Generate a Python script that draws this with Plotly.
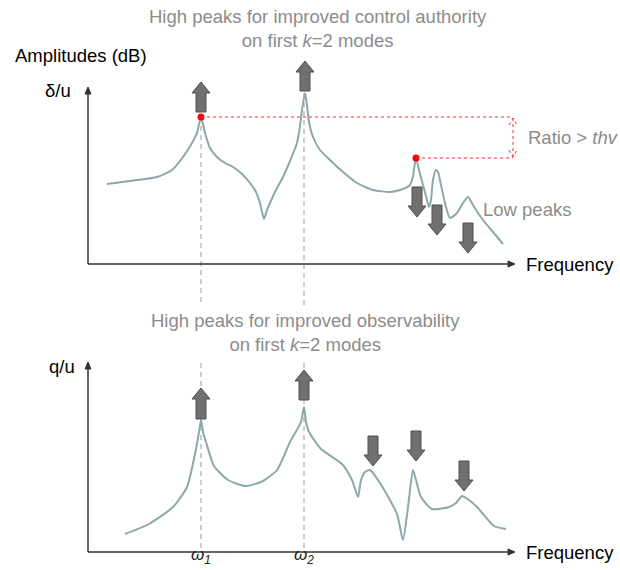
import plotly.graph_objects as go

# ---- data (screen-like frequency / amplitude units) ----
top_freq = [107, 130, 157, 172, 183, 192, 197, 201, 205, 210, 217, 225, 233, 242, 250, 256, 260, 264, 267, 270, 276, 283, 290, 297, 300, 302, 305, 307, 309, 313, 320, 330, 343, 357, 373, 390, 400, 410, 413, 416, 419, 423, 427, 429, 431, 433, 436, 438, 441, 445, 450, 457, 463, 468, 473, 478, 483, 493, 503]
top_amp = [184, 181, 177, 170, 157, 143, 133, 117, 133, 148, 157, 163, 167, 174, 183, 192, 203, 219, 210, 203, 190, 177, 161, 143, 126, 110, 93, 105, 122, 137, 150, 160, 172, 183, 190, 192, 190, 185, 176, 158, 170, 185, 200, 207, 200, 180, 170, 172, 185, 203, 218, 213, 203, 197, 205, 213, 220, 232, 244]

bot_freq = [125, 149, 173, 187, 196, 199, 201, 203, 206, 214, 228, 246, 263, 277, 290, 301, 304, 306, 309, 321, 342, 352, 358, 361, 365, 370, 380, 397, 403, 408, 413, 416, 421, 432, 449, 456, 462, 469, 477, 494, 506]
bot_amp = [534, 524, 507, 487, 449, 432, 420, 432, 442, 466, 480, 486, 481, 470, 442, 422, 407, 422, 432, 449, 464, 480, 497, 480, 472, 470, 483, 514, 540, 507, 470, 480, 497, 509, 507, 503, 496, 500, 507, 526, 529]

mode_freq = [201, 304]                    # omega_1, omega_2
mode_labels = ["<i>ω</i><sub><i>1</i></sub>", "<i>ω</i><sub><i>2</i></sub>"]

# gray block arrows: (x, tail, tip)
top_up = [(201, 112, 82), (305, 91, 61)]
top_down = [(417, 187, 217), (437, 205, 235), (468, 223, 253)]
bot_up = [(201, 419, 388), (304, 400, 370)]
bot_down = [(373, 436, 466), (416, 431, 461), (464, 461, 491)]

hi_peak = (201, 117)
lo_peak = (416, 158)

CURVE = "#8DA8A8"
GRAY_TXT = "#8C8C8C"
AX = "#333333"
FONT = "Liberation Sans, Arial, sans-serif"

fig = go.Figure()

shapes = []
annotations = []

# dashed mode lines
for xm, ytop in zip(mode_freq, [117, 93]):
    shapes.append(dict(type="line", x0=xm, x1=xm, y0=ytop, y1=306, xref="x", yref="y",
                       line=dict(color="#BDBDBD", width=1.5, dash="5px,4px"), layer="below"))
    shapes.append(dict(type="line", x0=xm, x1=xm, y0=363, y1=552, xref="x", yref="y",
                       line=dict(color="#BDBDBD", width=1.5, dash="5px,4px"), layer="below"))

# curves
fig.add_trace(go.Scatter(x=top_freq, y=top_amp, mode="lines",
                         line=dict(color=CURVE, width=2, shape="spline", smoothing=0.6),
                         hoverinfo="skip", showlegend=False))
fig.add_trace(go.Scatter(x=bot_freq, y=bot_amp, mode="lines",
                         line=dict(color=CURVE, width=2, shape="spline", smoothing=0.6),
                         hoverinfo="skip", showlegend=False))

# red ratio lines
RED = "#FF2A2A"
shapes.append(dict(type="line", x0=hi_peak[0], x1=513, y0=hi_peak[1], y1=hi_peak[1],
                   xref="x", yref="y", line=dict(color=RED, width=1, dash="dot")))
shapes.append(dict(type="line", x0=lo_peak[0], x1=513, y0=lo_peak[1], y1=lo_peak[1],
                   xref="x", yref="y", line=dict(color=RED, width=1, dash="dot")))
shapes.append(dict(type="line", x0=513, x1=513, y0=hi_peak[1] + 1, y1=lo_peak[1] - 1,
                   xref="x", yref="y", line=dict(color=RED, width=1, dash="dot")))
for yt, yb in [(hi_peak[1] + 1, hi_peak[1] + 8), (lo_peak[1] - 1, lo_peak[1] - 8)]:
    shapes.append(dict(type="path", path=f"M 509,{yb} L 513,{yt} L 517,{yb}",
                       xref="x", yref="y", line=dict(color=RED, width=1, dash="dot")))

fig.add_trace(go.Scatter(x=[hi_peak[0], lo_peak[0]], y=[hi_peak[1], lo_peak[1]], mode="markers",
                         marker=dict(color="#FF0000", size=7), hoverinfo="skip", showlegend=False))


def block_arrow(x, tail, tip):
    d = 1 if tip > tail else -1
    head = tip - d * 11
    return dict(type="path", xref="x", yref="y",
                path=(f"M {x-5},{tail} L {x-5},{head} L {x-9},{head} L {x},{tip} "
                      f"L {x+9},{head} L {x+5},{head} L {x+5},{tail} Z"),
                fillcolor="#707070", line=dict(color="#4F4F4F", width=1))


for a in top_up + top_down + bot_up + bot_down:
    shapes.append(block_arrow(*a))

# axes with small arrow heads
for base in (264, 552):
    top = 87 if base == 264 else 362
    shapes.append(dict(type="line", x0=88, x1=88, y0=base, y1=top + 4, xref="x", yref="y",
                       line=dict(color=AX, width=1.5)))
    shapes.append(dict(type="line", x0=88, x1=511, y0=base, y1=base, xref="x", yref="y",
                       line=dict(color=AX, width=1.5)))
    shapes.append(dict(type="path", xref="x", yref="y",
                       path=f"M 85,{top + 7} L 88,{top} L 91,{top + 7} Z",
                       fillcolor=AX, line=dict(color=AX, width=1)))
    shapes.append(dict(type="path", xref="x", yref="y",
                       path=f"M 508,{base - 3} L 515,{base} L 508,{base + 3} Z",
                       fillcolor=AX, line=dict(color=AX, width=1)))


def txt(x, y, s, color="#000000", xanchor="center", size=18.5, yanchor="middle"):
    annotations.append(dict(x=x, y=y, xref="x", yref="y", text=s, showarrow=False,
                            xanchor=xanchor, yanchor=yanchor,
                            font=dict(family=FONT, size=size, color=color)))


txt(318, 28, "High peaks for improved control authority<br>on first <i>k</i>=2 modes", GRAY_TXT)
txt(305, 332, "High peaks for improved observability<br>on first <i>k</i>=2 modes", GRAY_TXT)
txt(81, 55, "Amplitudes (dB)")
txt(58, 90, "δ/u")
txt(62, 366, "q/u")
txt(524, 264, "Frequency", xanchor="left")
txt(524, 552, "Frequency", xanchor="left")
txt(526, 137, "Ratio > <i>thv</i>", GRAY_TXT, xanchor="left")
txt(481, 209, "Low peaks", GRAY_TXT, xanchor="left")
for xm, lab in zip(mode_freq, mode_labels):
    txt(xm, 569, lab, "#222222", size=17, yanchor="bottom")

fig.update_layout(
    width=620, height=570, margin=dict(l=0, r=0, t=0, b=0),
    paper_bgcolor="white", plot_bgcolor="white",
    xaxis=dict(range=[0, 620], visible=False, fixedrange=True),
    yaxis=dict(range=[570, 0], visible=False, fixedrange=True),
    shapes=shapes, annotations=annotations,
)

fig.write_html("out.html")
